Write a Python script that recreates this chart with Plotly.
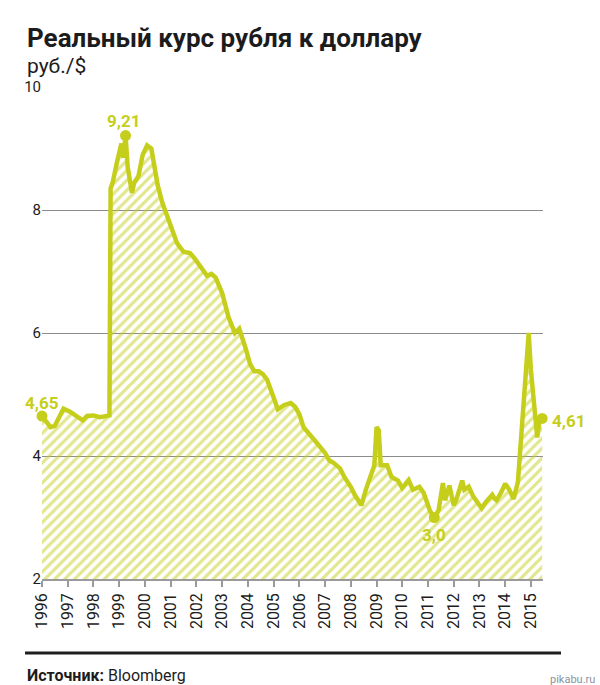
import plotly.graph_objects as go

# ---- data ----
dates = [
    "1996-01-01", "1996-03-01", "1996-05-01", "1996-07-01", "1996-09-01", "1996-11-01",
    "1997-02-01", "1997-06-01", "1997-08-01", "1997-10-01",
    "1998-01-01", "1998-04-01", "1998-07-01", "1998-08-15", "1998-09-01", "1998-10-01", "1998-12-01",
    "1999-02-01", "1999-03-01", "1999-04-01", "1999-05-01", "1999-07-01", "1999-08-01", "1999-10-01", "1999-12-01",
    "2000-02-01", "2000-04-01", "2000-05-01", "2000-07-01", "2000-09-01", "2000-11-01",
    "2001-01-01", "2001-04-01", "2001-07-01", "2001-10-01", "2001-12-01",
    "2002-02-01", "2002-04-01", "2002-06-01", "2002-08-01", "2002-10-01",
    "2003-01-01", "2003-04-01", "2003-07-01", "2003-09-01", "2003-12-01",
    "2004-02-01", "2004-04-01", "2004-06-01", "2004-08-01", "2004-10-01",
    "2005-01-01", "2005-03-01", "2005-06-01", "2005-09-01", "2005-11-01",
    "2006-01-01", "2006-03-01", "2006-07-01", "2006-09-01",
    "2007-01-01", "2007-03-01", "2007-05-01", "2007-08-01", "2007-10-01",
    "2008-01-01", "2008-03-01", "2008-06-01", "2008-08-01", "2008-10-01", "2008-12-01",
    "2009-01-01", "2009-02-01", "2009-03-01", "2009-05-01", "2009-06-01", "2009-08-01", "2009-11-01",
    "2010-01-01", "2010-03-01", "2010-04-01", "2010-06-01", "2010-09-01", "2010-11-01",
    "2011-02-01", "2011-04-01", "2011-06-01", "2011-08-01", "2011-09-01", "2011-11-01",
    "2012-01-01", "2012-02-01", "2012-05-01", "2012-06-01", "2012-08-01", "2012-10-01", "2012-12-01",
    "2013-02-01", "2013-04-01", "2013-07-01", "2013-08-01", "2013-09-01", "2013-11-01",
    "2014-01-01", "2014-03-01", "2014-05-01", "2014-07-01", "2014-08-01", "2014-10-01", "2014-12-01",
    "2015-01-01", "2015-03-01", "2015-04-01", "2015-05-01", "2015-06-10",
]
rate = [
    4.65, 4.56, 4.47, 4.49, 4.62, 4.77,
    4.72, 4.62, 4.58, 4.65,
    4.66, 4.63, 4.65, 4.66, 8.35, 8.45, 8.78,
    9.08, 8.85, 9.21, 8.70, 8.28, 8.44, 8.55, 8.90,
    9.05, 9.00, 8.80, 8.40, 8.13, 7.95,
    7.75, 7.46, 7.32, 7.30, 7.22,
    7.12, 7.05, 6.93, 6.96, 6.90,
    6.65, 6.26, 6.00, 6.07, 5.75,
    5.50, 5.38, 5.38, 5.33, 5.24,
    4.95, 4.76, 4.83, 4.86, 4.80,
    4.68, 4.47, 4.29, 4.22,
    4.05, 3.93, 3.89, 3.80, 3.66,
    3.50, 3.36, 3.20, 3.45, 3.66, 3.85,
    4.47, 4.42, 3.85, 3.86, 3.85, 3.66, 3.60,
    3.48, 3.56, 3.61, 3.45, 3.50, 3.40,
    3.10, 3.00, 3.12, 3.56, 3.28, 3.52,
    3.20, 3.27, 3.60, 3.45, 3.50, 3.35, 3.25,
    3.15, 3.25, 3.37, 3.31, 3.28, 3.40,
    3.55, 3.45, 3.30, 3.58, 4.05, 4.90, 6.00,
    5.40, 4.75, 4.30, 4.55, 4.61,
]

# highlighted points and their labels
mark_dates = ["1996-01-01", "1999-04-01", "2011-04-01", "2015-06-10"]
mark_values = [4.65, 9.21, 3.0, 4.61]
mark_labels = ["4,65", "9,21", "3,0", "4,61"]

year_ticks = [f"{y}-01-01" for y in range(1996, 2016)]
year_labels = [str(y) for y in range(1996, 2016)]

title = "Реальный курс рубля к доллару"
subtitle = "руб./$"
source = "<b>Источник:</b> Bloomberg"

LINE = "#c6ce1c"
FONT = "Roboto"

fig = go.Figure()
fig.add_trace(go.Scatter(
    x=dates, y=rate, mode="lines",
    line=dict(color=LINE, width=4.5),
    fill="tozeroy", fillcolor="rgba(0,0,0,0)",
    fillpattern=dict(shape="/", fgcolor=LINE, size=7, solidity=0.45),
    hoverinfo="skip", showlegend=False,
))
fig.add_trace(go.Scatter(
    x=mark_dates, y=mark_values, mode="markers",
    marker=dict(color=LINE, size=11),
    cliponaxis=False,
    showlegend=False, hoverinfo="skip",
))

# label offsets (pixels) for each highlighted point
offsets = [(0, 13, "center"), (-2, 15, "center"), (0, -17, "center"), (8, -3, "left")]
for d, v, lab, (dx, dy, anc) in zip(mark_dates, mark_values, mark_labels, offsets):
    fig.add_annotation(
        x=d, y=v, xref="x", yref="y", text=f"<b>{lab}</b>", showarrow=False,
        xanchor=anc, yanchor="middle", xshift=dx, yshift=dy,
        font=dict(family=FONT, size=17, color=LINE),
    )

# pixel helpers: plot area spans x 42..543, y 87..579
def px(x):
    return (x - 42) / 501.0

def py(y):
    return (579 - y) / 492.0

fig.add_annotation(x=px(25), y=py(38), xref="paper", yref="paper", text=f"<b>{title}</b>",
                   showarrow=False, xanchor="left", yanchor="middle",
                   font=dict(family=FONT, size=26, color="#1c1c1c"))
fig.add_annotation(x=px(25), y=py(66), xref="paper", yref="paper", text=subtitle,
                   showarrow=False, xanchor="left", yanchor="middle",
                   font=dict(family=FONT, size=21, color="#1c1c1c"))
fig.add_annotation(x=px(25), y=py(675), xref="paper", yref="paper", text=source,
                   showarrow=False, xanchor="left", yanchor="middle",
                   font=dict(family=FONT, size=16, color="#1c1c1c"))
fig.add_annotation(x=px(597), y=py(679), xref="paper", yref="paper", text="pikabu.ru",
                   showarrow=False, xanchor="right", yanchor="middle",
                   font=dict(family=FONT, size=11, color="#8a93a0"))
fig.add_shape(type="line", xref="paper", yref="paper", x0=px(25), x1=px(561),
              y0=py(653), y1=py(653), line=dict(color="#1e1e1e", width=3))

fig.update_layout(
    width=600, height=685,
    margin=dict(l=42, r=57, t=87, b=106),
    paper_bgcolor="white", plot_bgcolor="white",
    font=dict(family=FONT, color="#1c1c1c"),
    xaxis=dict(
        type="date", range=["1996-01-01", "2015-06-22"],
        tickvals=year_ticks, ticktext=year_labels, tickangle=-90,
        tickfont=dict(size=16, color="#1c1c1c"),
        showgrid=False, showline=True, linecolor="#9a9a9a", linewidth=1.5,
        ticks="outside", ticklen=6, tickcolor="#9a9a9a", tickwidth=1.5,
        zeroline=False,
    ),
    yaxis=dict(
        range=[2, 10], tickvals=[2, 4, 6, 8, 10], ticktext=["2", "4", "6", "8", "10"],
        tickfont=dict(size=15, color="#1c1c1c"),
        showgrid=True, gridcolor="#8c8c8c", gridwidth=1.2,
        zeroline=False, showline=False, ticks="",
    ),
)

fig.write_html("out.html", config={"displayModeBar": False},
               post_script="document.body.style.margin='0';document.body.style.overflow='hidden';")
